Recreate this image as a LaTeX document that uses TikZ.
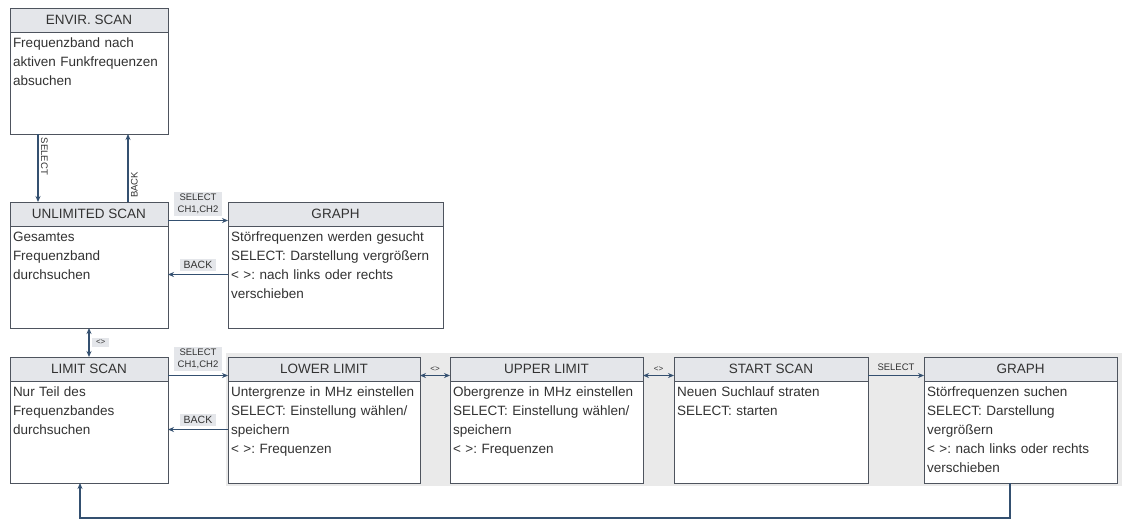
\documentclass[tikz,border=0pt]{standalone}
\usepackage{fontspec}
\setmainfont{Liberation Sans}
\usepackage{tikz}
\usetikzlibrary{positioning,arrows.meta,calc,backgrounds}
\definecolor{linec}{RGB}{52,80,112}
\definecolor{framec}{RGB}{78,84,94}
\definecolor{headc}{RGB}{228,230,234}
\definecolor{bandc}{RGB}{234,234,234}
\definecolor{txtc}{RGB}{50,50,50}
\frenchspacing

\begin{document}
\begin{tikzpicture}[outer sep=0pt]
\tikzset{
    head/.style={rectangle, draw=framec, fill=headc, line width=1pt, minimum width=#1, minimum height=24pt, inner sep=0pt, text=txtc, font=\fontsize{13.5}{16}\selectfont},
    body/.style={rectangle, draw=framec, fill=white, line width=1pt, text width=#1-6pt, inner xsep=3pt, inner ysep=4pt, text height=11pt, text depth=83pt, align=left, text=txtc, font=\fontsize{13.5}{19}\selectfont},
    arrow/.style={-{Stealth[length=6pt,width=5pt]}, line width=1.9pt, draw=linec},
    twoway/.style={{Stealth[length=6pt,width=5pt]}-{Stealth[length=6pt,width=5pt]}, line width=1.9pt, draw=linec},
    tag/.style={fill=headc, inner xsep=4pt, inner ysep=2pt, text=txtc, align=center, font=\fontsize{9.5}{12}\selectfont},
    sidetag/.style={inner sep=1.5pt, text=txtc, font=\fontsize{9.5}{12}\selectfont}
}
\useasboundingbox (0,0) rectangle (1124pt,-523pt);
\begin{scope}[on background layer]
\fill[white] (0,0) rectangle (1124pt,-523pt);
\end{scope}

\node[head=158pt, anchor=north west] (envir) at (10pt,-8pt) {ENVIR. SCAN};
\node[body=158pt, below=0pt of envir] (envirtxt) {Frequenzband nach\\aktiven Funkfrequenzen\\absuchen};
\node[head=158pt, below=68pt of envirtxt] (unlim) {UNLIMITED SCAN};
\node[body=158pt, below=0pt of unlim] (unlimtxt) {Gesamtes\\Frequenzband\\durchsuchen};
\node[head=215pt, right=60pt of unlim] (graphA) {GRAPH};
\node[body=215pt, below=0pt of graphA] (graphAtxt) {Störfrequenzen werden gesucht\\SELECT: Darstellung vergrößern\\< >: nach links oder rechts\\verschieben};
\node[head=158pt, below=29pt of unlimtxt] (limit) {LIMIT SCAN};
\node[body=158pt, below=0pt of limit] (limittxt) {Nur Teil des\\Frequenzbandes\\durchsuchen};
\node[head=192pt, right=60pt of limit] (lower) {LOWER LIMIT};
\node[body=192pt, below=0pt of lower] (lowertxt) {Untergrenze in MHz einstellen\\SELECT: Einstellung wählen/\\speichern\\< >: Frequenzen};
\node[head=193pt, right=30pt of lower] (upper) {UPPER LIMIT};
\node[body=193pt, below=0pt of upper] (uppertxt) {Obergrenze in MHz einstellen\\SELECT: Einstellung wählen/\\speichern\\< >: Frequenzen};
\node[head=194pt, right=31pt of upper] (start) {START SCAN};
\node[body=194pt, below=0pt of start] (starttxt) {Neuen Suchlauf straten\\SELECT: starten};
\node[head=193pt, right=56pt of start] (graphB) {GRAPH};
\node[body=193pt, below=0pt of graphB] (graphBtxt) {Störfrequenzen suchen\\SELECT: Darstellung\\vergrößern\\< >: nach links oder rechts\\verschieben};

\begin{scope}[on background layer]
\fill[bandc] ([xshift=-2pt,yshift=4pt]lower.north west) rectangle ([xshift=5pt,yshift=-3pt]graphBtxt.south east);
\end{scope}

\draw[arrow] ([xshift=28pt]envirtxt.south west) -- ([xshift=28pt]unlim.north west) node[pos=0.33, rotate=-90, anchor=south, sidetag, inner sep=3pt] {SELECT};
\draw[arrow] ([xshift=118pt]unlim.north west) -- ([xshift=118pt]envirtxt.south west) node[pos=0.25, rotate=90, anchor=north, sidetag, inner sep=3pt] {BACK};
\draw[arrow] ([yshift=-6.5pt]unlim.east) -- ([yshift=-6.5pt]graphA.west) node[midway, above=5pt, tag] {SELECT\\CH1,CH2};
\draw[arrow] ([yshift=2.5pt]graphAtxt.west) -- ([yshift=2.5pt]unlimtxt.east) node[midway, above=4pt, tag, font=\fontsize{10.5}{12}\selectfont] {BACK};
\draw[twoway] ([xshift=79pt]unlimtxt.south west) -- ([xshift=79pt]limit.north west) node[midway, right=3pt, tag, font=\fontsize{8}{10}\selectfont] {<>};
\draw[arrow] ([yshift=-6.5pt]limit.east) -- ([yshift=-6.5pt]lower.west) node[midway, above=5pt, tag] {SELECT\\CH1,CH2};
\draw[arrow] ([yshift=2.5pt]lowertxt.west) -- ([yshift=2.5pt]limittxt.east) node[midway, above=4pt, tag, font=\fontsize{10.5}{12}\selectfont] {BACK};
\draw[twoway] ([yshift=-6.5pt]lower.east) -- ([yshift=-6.5pt]upper.west) node[midway, above=3pt, sidetag, font=\fontsize{8}{10}\selectfont] {<>};
\draw[twoway] ([yshift=-6.5pt]upper.east) -- ([yshift=-6.5pt]start.west) node[midway, above=3pt, sidetag, font=\fontsize{8}{10}\selectfont] {<>};
\draw[arrow] ([yshift=-6.5pt]start.east) -- ([yshift=-6.5pt]graphB.west) node[midway, above=3pt, sidetag] {SELECT};
\draw[arrow, line width=2.2pt] ([xshift=-10.5pt]graphBtxt.south) -- ++(0,-35pt) -| ([xshift=-9pt]limittxt.south);
\end{tikzpicture}
\end{document}
